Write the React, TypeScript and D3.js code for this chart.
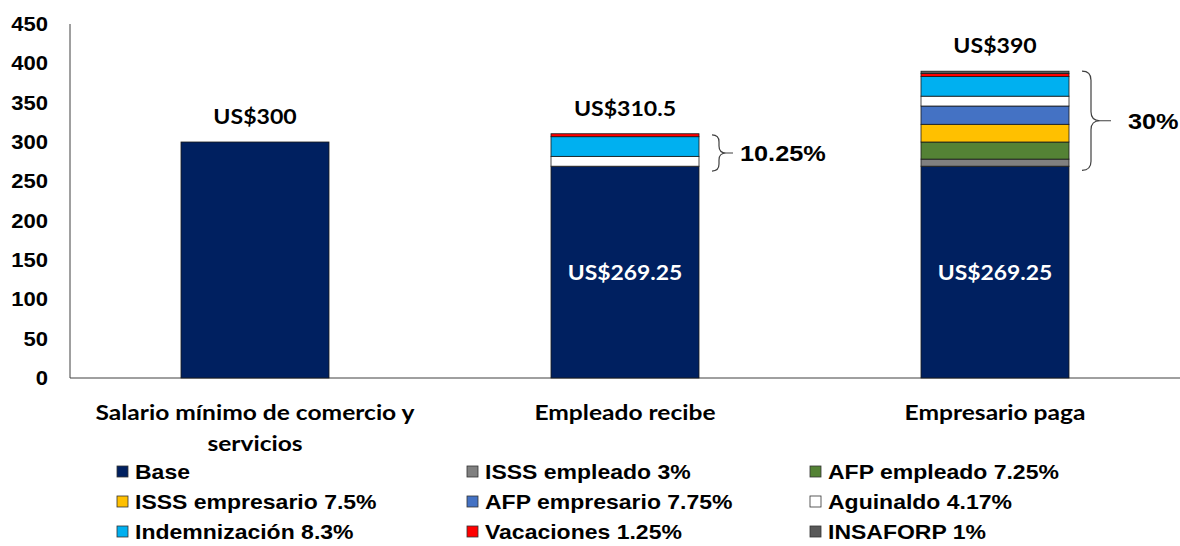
import * as d3 from 'd3'

const categories = ['Salario mínimo de comercio y servicios', 'Empleado recibe', 'Empresario paga']
const categoryLines = [['Salario mínimo de comercio y', 'servicios'], ['Empleado recibe'], ['Empresario paga']]

const seriesNames = [
  'Base',
  'ISSS empleado 3%',
  'AFP empleado 7.25%',
  'ISSS empresario 7.5%',
  'AFP empresario 7.75%',
  'Aguinaldo 4.17%',
  'Indemnización 8.3%',
  'Vacaciones 1.25%',
  'INSAFORP 1%',
]
const seriesColors = ['#002060', '#808080', '#548235', '#FFC000', '#4472C4', '#FFFFFF', '#00B0F0', '#FF0000', '#595959']

const base = [300, 269.25, 269.25]
const isssEmpleado = [0, 0, 9]
const afpEmpleado = [0, 0, 21.75]
const isssEmpresario = [0, 0, 22.5]
const afpEmpresario = [0, 0, 23.25]
const aguinaldo = [0, 12.5, 12.5]
const indemnizacion = [0, 25, 25]
const vacaciones = [0, 3.75, 3.75]
const insaforp = [0, 0, 3]

const totalLabels = ['US$300', 'US$310.5', 'US$390']
const baseLabels = ['', 'US$269.25', 'US$269.25']
const braces = [
  {cat: 1, from: 263, to: 309, label: '10.25%'},
  {cat: 2, from: 264, to: 390, label: '30%'},
]
const yTicks = [0, 50, 100, 150, 200, 250, 300, 350, 400, 450]

const W = 1180
const H = 546
const margin = {top: 24, right: 0, bottom: 168, left: 70}
const calibri = 'Lato, "Open Sans", sans-serif'
const arial = '"Liberation Sans", Arial, sans-serif'

const allSeries = [base, isssEmpleado, afpEmpleado, isssEmpresario, afpEmpresario, aguinaldo, indemnizacion, vacaciones, insaforp]

// the source picture is stretched a little sideways, so text gets a horizontal scale
function T({x, y, sx, anchor, font, size, fill, children}: any) {
  return (
    <text
      transform={`translate(${x},${y}) scale(${sx},1)`}
      textAnchor={anchor || 'start'}
      fontFamily={font}
      fontWeight="bold"
      fontSize={size}
      fill={fill || '#000'}
    >
      {children}
    </text>
  )
}

export default function App() {
  const x = d3.scaleBand().domain(categories).range([margin.left, W - margin.right]).paddingInner(0.6).paddingOuter(0.3)
  const y = d3.scaleLinear().domain([0, 450]).range([H - margin.bottom, margin.top])

  const rows = categories.map((c, i) => {
    const r: Record<string, any> = {cat: c}
    seriesNames.forEach((s, j) => (r[s] = allSeries[j][i]))
    return r
  })
  const stacked = d3.stack<any>().keys(seriesNames)(rows)
  const totals = categories.map((_, i) => d3.sum(allSeries, s => s[i]))

  const brace = (x0: number, y1: number, y2: number, w: number, tip: number) => {
    const ym = (y1 + y2) / 2
    const r = Math.min(w, (y2 - y1) / 4)
    return `M${x0},${y1} Q${x0 + w},${y1} ${x0 + w},${y1 + r} L${x0 + w},${ym - r} Q${x0 + w},${ym} ${x0 + w + r},${ym} L${x0 + w + tip},${ym} M${x0 + w + r},${ym} Q${x0 + w},${ym} ${x0 + w},${ym + r} L${x0 + w},${y2 - r} Q${x0 + w},${y2} ${x0},${y2}`
  }

  return (
    <div style={{position: 'absolute', left: 0, top: 0}}>
      <svg width={W} height={H} style={{display: 'block', background: '#fff'}}>
        {/* axes */}
        <line x1={margin.left} x2={margin.left} y1={y(450)} y2={y(0)} stroke="#404040" strokeWidth={1} />
        <line x1={margin.left} x2={W} y1={y(0)} y2={y(0)} stroke="#404040" strokeWidth={1} />
        {yTicks.map(t => (
          <T key={t} x={48} y={y(t) + 7} sx={1.13} anchor="end" font={arial} size={19.5}>
            {t}
          </T>
        ))}

        {/* bars */}
        {stacked.map((layer, j) => (
          <g key={layer.key} fill={seriesColors[j]}>
            {layer.map((d, i) =>
              d[1] - d[0] > 0 ? (
                <rect
                  key={i}
                  x={x(categories[i])}
                  width={x.bandwidth()}
                  y={y(d[1])}
                  height={y(d[0]) - y(d[1])}
                  stroke="#1a1a1a"
                  strokeWidth={0.8}
                />
              ) : null
            )}
          </g>
        ))}

        {/* labels */}
        {categories.map((c, i) => {
          const cx = (x(c) || 0) + x.bandwidth() / 2
          return (
            <g key={c}>
              <T x={cx} y={y(totals[i]) - 18} sx={1.1} anchor="middle" font={calibri} size={21}>
                {totalLabels[i]}
              </T>
              {baseLabels[i] && (
                <T x={cx} y={y(base[i] / 2) + 8} sx={1.09} anchor="middle" font={calibri} size={21} fill="#fff">
                  {baseLabels[i]}
                </T>
              )}
              {categoryLines[i].map((line, k) => (
                <T key={k} x={cx} y={420 + k * 31} sx={1.17} anchor="middle" font={calibri} size={21}>
                  {line}
                </T>
              ))}
            </g>
          )
        })}

        {/* braces */}
        {braces.map(b => {
          const x0 = (x(categories[b.cat]) || 0) + x.bandwidth() + 13
          const w = b.cat === 2 ? 9 : 7
          const tip = b.cat === 2 ? 20 : 14
          return (
            <g key={b.label}>
              <path d={brace(x0, y(b.to), y(b.from), w, tip)} fill="none" stroke="#404040" strokeWidth={1.2} />
              <T x={x0 + w + tip + (b.cat === 2 ? 17 : 7)} y={(y(b.to) + y(b.from)) / 2 + 8} sx={1.15} font={arial} size={22}>
                {b.label}
              </T>
            </g>
          )
        })}

        {/* legend */}
        {seriesNames.map((s, j) => {
          const col = j % 3
          const row = Math.floor(j / 3)
          const lx = [117, 467, 810][col]
          const ly = 472 + row * 30
          return (
            <g key={s}>
              <rect x={lx} y={ly - 6} width={11} height={11} fill={seriesColors[j]} stroke="#333" strokeWidth={0.8} />
              <T x={lx + 18} y={ly + 7} sx={1.15} font={arial} size={20}>
                {s}
              </T>
            </g>
          )
        })}
      </svg>
    </div>
  )
}
